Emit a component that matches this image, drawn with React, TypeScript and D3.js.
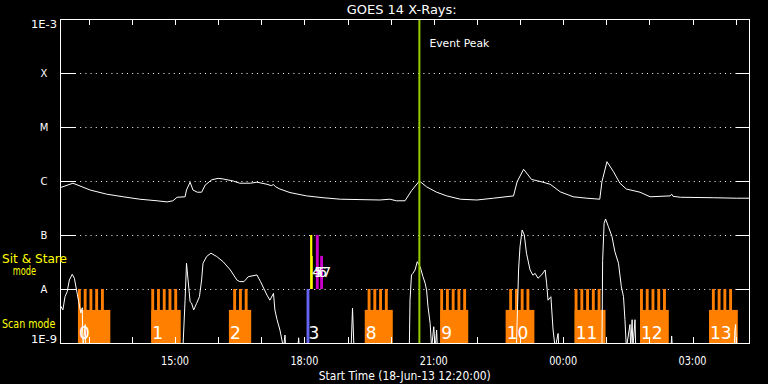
import React from "react";
import * as d3 from "d3";

// ---------- DATA ----------
const yTickValues = [1e-3, 1e-4, 1e-5, 1e-6, 1e-7, 1e-8, 1e-9];
const yTickLabels = ["1E-3", "X", "M", "C", "B", "A", "1E-9"];
const xLabelTimes = ["15:00", "18:00", "21:00", "00:00", "03:00"];

// GOES 1-8 A (long channel)
const longTimes = ["12:20","12:38","13:02","13:25","13:48","14:11","14:35","14:49","14:57","15:03","15:14","15:16","15:21","15:25","15:31","15:37","15:42","15:51","16:00","16:07","16:21","16:30","16:45","16:54","17:08","17:14","17:17","17:20","17:26","17:40","18:03","18:26","18:50","19:45","19:59","20:08","20:20","20:29","20:40","20:50","21:04","21:18","21:37","22:00","22:23","22:51","22:56","23:05","23:16","23:32","23:42","23:56","00:14","00:33","00:51","00:54","01:01","01:10","01:19","01:28","01:47","02:01","02:29","02:31","02:33","02:43","03:29","04:01","04:20"];
const longFlux = [7.5e-7,9.1e-7,6.8e-7,5.7e-7,5.1e-7,4.6e-7,4.3e-7,4.1e-7,4.3e-7,5.0e-7,5.1e-7,6.8e-7,9.5e-7,6.8e-7,6.2e-7,6.2e-7,8.4e-7,1.05e-6,1.12e-6,1.09e-6,1.0e-6,9.1e-7,9.1e-7,9.5e-7,8.7e-7,8.2e-7,8.6e-7,7.8e-7,7.1e-7,6.1e-7,5.3e-7,4.9e-7,4.6e-7,4.45e-7,4.6e-7,4.3e-7,4.3e-7,6.6e-7,1.0e-6,7.8e-7,6.2e-7,5.3e-7,4.6e-7,4.45e-7,4.8e-7,5.3e-7,9.7e-7,1.65e-6,1.07e-6,9.5e-7,8.7e-7,6.3e-7,5.1e-7,4.8e-7,4.6e-7,9.7e-7,2.28e-6,1.49e-6,9.1e-7,7.1e-7,6.2e-7,5.1e-7,5.3e-7,5.7e-7,5.2e-7,5.0e-7,4.9e-7,4.8e-7,4.8e-7];

// GOES 0.5-4 A (short channel); values below 1E-9 fall off the plot
const shortTimes = ["12:20","12:24","12:27","12:30","12:33","12:37","12:40","12:43","12:46","12:49","12:51","12:52","12:55","12:56","15:11","15:14","15:16","15:21","15:23","15:26","15:30","15:34","15:37","15:39","15:44","15:50","15:58","16:07","16:17","16:26","16:30","16:36","16:42","16:54","16:59","17:08","17:12","17:17","17:19","17:22","17:26","17:31","17:33","17:34","17:51","17:52","17:53","19:05","19:07","19:09","20:26","20:27","20:29","20:31","20:34","20:37","20:41","20:45","20:48","20:50","20:52","20:55","20:57","21:00","21:02","21:04","21:05","22:55","22:58","23:00","23:03","23:06","23:09","23:14","23:18","23:21","23:25","23:30","23:35","23:37","23:39","23:43","23:46","23:49","23:53","23:54","00:54","00:55","00:57","00:59","01:03","01:08","01:12","01:17","01:21","01:24","01:26","01:28","01:33","01:34","01:36","01:37","01:40","01:41","02:30","02:31","02:32","03:58","03:59","04:00","04:01","04:20"];
const shortFlux = [5.1e-9,4.1e-9,7.2e-9,8.9e-9,1.47e-8,1.87e-8,1.58e-8,9.6e-9,5.8e-9,3.6e-9,4.5e-9,8e-10,2.2e-9,8e-10,8e-10,6.2e-9,3.0e-8,5.8e-9,5.5e-9,4.1e-9,5.4e-9,7.2e-9,1.47e-8,3.0e-8,4.0e-8,4.6e-8,4.0e-8,3.2e-8,2.25e-8,1.47e-8,1.37e-8,1.37e-8,1.69e-8,1.82e-8,1.37e-8,7.7e-9,6.2e-9,8.3e-9,4.1e-9,2.7e-9,1.74e-9,8e-10,1.4e-9,8e-10,8e-10,1.25e-9,8e-10,8e-10,4.4e-9,8e-10,8e-10,6.2e-9,1.82e-8,1.95e-8,2.25e-8,3.2e-8,2.6e-8,1.69e-8,1.28e-8,9.6e-9,4.7e-9,2.3e-9,8e-10,2.0e-9,8e-10,1.74e-9,8e-10,8e-10,2.25e-8,6.1e-8,1.24e-7,1.0e-7,4.6e-8,2.25e-8,1.8e-8,1.95e-8,1.58e-8,1.82e-8,2.25e-8,1.28e-8,6.2e-9,7.2e-9,1.74e-9,8e-10,1.5e-9,8e-10,8e-10,3.4e-8,1.65e-7,1.98e-7,1.43e-7,9.3e-8,4.9e-8,3.0e-8,1.1e-8,7.2e-9,2.7e-9,8e-10,2.2e-9,8e-10,2.7e-9,8e-10,2.7e-9,8e-10,8e-10,1.35e-9,8e-10,8e-10,1.74e-9,2.2e-9,8e-10,8e-10];

// Scan-mode observation blocks
const scanIds = [0, 1, 2, 8, 9, 10, 11, 12, 13];
const scanStart = ["12:45", "14:27", "16:15", "19:24", "21:09", "22:40", "00:16", "01:47", "03:23"];
const scanEnd = ["13:30", "15:08", "16:46", "20:03", "21:48", "23:20", "00:59", "02:27", "04:03"];
const scanTeethStart = ["12:45", "14:27", "16:21", "19:28", "21:09", "22:45", "00:16", "01:47", "03:27"];
const scanTeethCount = [5, 5, 3, 4, 5, 4, 5, 5, 4];
const scanTopFlux = 1e-8;
const scanBaseFlux = 4.1e-9;

// single short scan (id 3)
const singleScan = { id: 3, start: "18:03", end: "18:07" };

// Sit & stare observations
const sitIds = [4, 5, 6, 7];
const sitStart = ["18:08", "18:11", "18:16", "18:22"];
const sitEnd = ["18:11", "18:12", "18:20", "18:26"];
const sitTopFlux = [1e-7, 4.1e-8, 1e-7, 4.1e-8];
const sitColors = ["#ffff00", "#ffff00", "#cc00cc", "#cc00cc"];

const eventPeak = "20:40";

// ---------- HELPERS ----------
const parseT = (s: string) => {
  const [h, m] = s.split(":").map(Number);
  return h < 12 ? new Date(2013, 5, 19, h, m) : new Date(2013, 5, 18, h, m);
};

const W = 768, H = 384;
const L = 60, R = 750, T = 19, B = 343;

export default function App() {
  const x = d3.scaleTime().domain([new Date(2013, 5, 18, 12, 20), new Date(2013, 5, 19, 4, 20)]).range([L, R]);
  const y = d3.scaleLog().domain([1e-9, 1e-3]).range([B, T]);
  const line = d3.line<[Date, number]>().x(d => x(d[0])).y(d => y(d[1]));
  const longPts = longTimes.map((t, i) => [parseT(t), longFlux[i]] as [Date, number]);
  const shortPts = shortTimes.map((t, i) => [parseT(t), shortFlux[i]] as [Date, number]);
  const hours = d3.timeHour.every(1)!.range(x.domain()[0], x.domain()[1]);
  const toothPeriodMin = 8, toothWidthMin = 4;
  const font = "DejaVu Sans, sans-serif";

  return (
    <svg width={W} height={H} style={{ position: "absolute", left: 0, top: 0, display: "block", background: "#000" }}>
      <defs>
        <clipPath id="plotclip"><rect x={L} y={T} width={R - L} height={B - T} /></clipPath>
      </defs>
      <rect x={0} y={0} width={W} height={H} fill="#000" />

      {/* grid dotted lines */}
      {yTickValues.slice(1, -1).map((v, i) => (
        <line key={"g" + i} x1={L + 15} x2={R - 14} y1={Math.round(y(v)) + 0.5} y2={Math.round(y(v)) + 0.5} stroke="#fff" strokeDasharray="1,4.2" />
      ))}

      {/* scan blocks */}
      {scanIds.map((id, i) => {
        const x0 = x(parseT(scanStart[i])), x1 = x(parseT(scanEnd[i]));
        const ts = parseT(scanTeethStart[i]);
        const teeth = d3.range(scanTeethCount[i]).map(k => {
          const a = d3.timeMinute.offset(ts, k * toothPeriodMin);
          const b = d3.timeMinute.offset(a, toothWidthMin);
          return [x(a), x(b)];
        });
        return (
          <g key={"s" + id}>
            <rect x={x0} y={y(scanBaseFlux)} width={x1 - x0} height={y(1e-9) - y(scanBaseFlux)} fill="#ff8000" />
            {teeth.map(([a, b], k) => (
              <rect key={k} x={a} y={y(scanTopFlux)} width={b - a} height={y(1e-9) - y(scanTopFlux)} fill="#ff8000" />
            ))}
          </g>
        );
      })}
      <rect x={x(parseT(singleScan.start))} y={y(scanTopFlux)} width={x(parseT(singleScan.end)) - x(parseT(singleScan.start))} height={y(1e-9) - y(scanTopFlux)} fill="#6464f0" />

      {/* sit & stare */}
      {sitIds.map((id, i) => (
        <rect key={"ss" + id} x={x(parseT(sitStart[i]))} y={y(sitTopFlux[i])} width={x(parseT(sitEnd[i])) - x(parseT(sitStart[i]))} height={y(1e-8) - y(sitTopFlux[i])} fill={sitColors[i]} />
      ))}

      {/* curves */}
      <g clipPath="url(#plotclip)">
        <path d={line(longPts) || ""} fill="none" stroke="#fff" strokeWidth={1} />
        <path d={line(shortPts) || ""} fill="none" stroke="#fff" strokeWidth={1} />
      </g>

      {/* block labels */}
      {scanIds.map((id, i) => (
        <text key={"sl" + id} x={x(parseT(scanStart[i])) + 1} y={339} fill="#fff" fontFamily={font} fontSize={17}>{id}</text>
      ))}
      <text x={x(parseT(singleScan.start)) + 2} y={339} fill="#fff" fontFamily={font} fontSize={17}>{singleScan.id}</text>
      {sitIds.map((id, i) => (
        <text key={"sitl" + id} x={x(parseT(sitStart[i])) + 2} y={277} fill="#fff" fontFamily={font} fontSize={14}>{id}</text>
      ))}

      {/* event peak */}
      <line x1={x(parseT(eventPeak))} x2={x(parseT(eventPeak))} y1={T} y2={B} stroke="#99cc00" strokeWidth={2} />
      <text x={x(parseT(eventPeak)) + 10} y={47} fill="#fff" fontFamily={font} fontSize={11} textLength={60} lengthAdjust="spacingAndGlyphs">Event Peak</text>

      {/* axes box */}
      <rect x={L + 0.5} y={T + 0.5} width={R - L - 1} height={B - T} fill="none" stroke="#fff" strokeWidth={1} shapeRendering="crispEdges" />
      {yTickValues.map((v, i) => (
        <g key={"yt" + i}>
          <line x1={L} x2={L + 15} y1={Math.round(y(v)) + 0.5} y2={Math.round(y(v)) + 0.5} stroke="#fff" />
          <line x1={R - 14} x2={R} y1={Math.round(y(v)) + 0.5} y2={Math.round(y(v)) + 0.5} stroke="#fff" />
        </g>
      ))}
      {hours.map((h, i) => (
        <g key={"xt" + i}>
          <line x1={Math.round(x(h)) + 0.5} x2={Math.round(x(h)) + 0.5} y1={T} y2={T + 6} stroke="#fff" />
          <line x1={Math.round(x(h)) + 0.5} x2={Math.round(x(h)) + 0.5} y1={B} y2={B - 6} stroke="#fff" />
        </g>
      ))}

      {/* y labels */}
      {yTickLabels.map((lab, i) => {
        const yy = y(yTickValues[i]);
        const base = i === 0 ? yy + 8.5 : i === yTickLabels.length - 1 ? yy : yy + 4;
        return (
          <text key={"yl" + i} x={44} y={base} fill="#fff" fontFamily={font} fontSize={10} textAnchor="middle"
            {...(lab.length > 1 ? { textLength: 26, lengthAdjust: "spacingAndGlyphs" } : {})}>{lab}</text>
        );
      })}

      {/* x labels */}
      {xLabelTimes.map((t, i) => (
        <text key={"xl" + i} x={x(parseT(t))} y={364.5} fill="#fff" fontFamily={font} fontSize={13} textAnchor="middle" textLength={28} lengthAdjust="spacingAndGlyphs">{t}</text>
      ))}
      <text x={404.8} y={380} fill="#fff" fontFamily={font} fontSize={13} textAnchor="middle" textLength={172} lengthAdjust="spacingAndGlyphs">Start Time (18-Jun-13 12:20:00)</text>

      {/* title */}
      <text x={401.7} y={14} fill="#fff" fontFamily={font} fontSize={11.5} textAnchor="middle" textLength={110} lengthAdjust="spacingAndGlyphs">GOES 14 X-Rays:</text>

      {/* mode labels */}
      <text x={2} y={263} fill="#ffff00" fontFamily={font} fontSize={12} textLength={65} lengthAdjust="spacingAndGlyphs">Sit &amp; Stare</text>
      <text x={12.7} y={275} fill="#ffff00" fontFamily={font} fontSize={12} textLength={23.3} lengthAdjust="spacingAndGlyphs">mode</text>
      <text x={2} y={328} fill="#ffff00" fontFamily={font} fontSize={12} textLength={53.3} lengthAdjust="spacingAndGlyphs">Scan mode</text>
    </svg>
  );
}
